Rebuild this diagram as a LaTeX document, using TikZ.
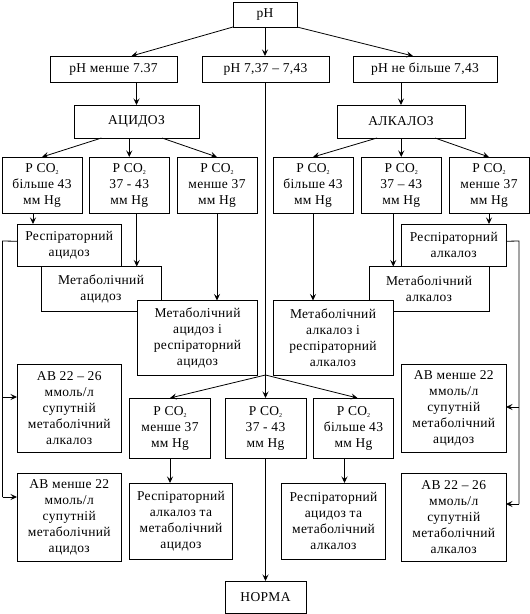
\documentclass[tikz,border=0pt]{standalone}
\usepackage{fontspec}
\setmainfont{Liberation Serif}[LetterSpace=2.5]
\usetikzlibrary{arrows.meta}
\tikzset{
  box/.style={draw, fill=white, line width=0.8pt, inner sep=1pt, outer sep=0pt,
    align=center, font=\fontsize{13.5}{16}\selectfont},
  arr/.style={line width=0.8pt, -{Stealth[length=6.5pt,width=6pt,inset=2.5pt]}},
  ln/.style={line width=0.8pt},
}
\newcommand\bx[6]{\node[box, minimum width={#4pt-#2pt}, minimum height={#5pt-#3pt}] (#1) at ({(#2+#4)/2},{(#3+#5)/2}) {#6};}
\newcommand\pco{P CO\raisebox{-0.35ex}{\fontsize{6}{6}\selectfont 2}}
\begin{document}
\begin{tikzpicture}[x=1pt,y=-1pt]
\useasboundingbox (0,0) rectangle (530,614);
% boxes
\bx{ph}{233}{2}{297}{27}{pH}
\bx{pl}{50}{56}{177}{82}{pH менше 7.37}
\bx{pm}{202}{56}{329}{82}{pH 7,37 – 7,43}
\bx{pr}{353}{56}{497}{82}{pH не більше 7,43}
\bx{ac}{74}{105}{199}{138}{АЦИДОЗ}
\bx{al}{337}{105}{465}{138}{АЛКАЛОЗ}
\bx{b1}{2}{157}{82}{213}{\pco\\більше 43\\мм Hg}
\bx{b2}{89.5}{157}{169}{213}{\pco\\37 - 43\\мм Hg}
\bx{b3}{177}{157}{257}{213}{\pco\\менше 37\\мм Hg}
\bx{b4}{273}{157}{353}{213}{\pco\\більше 43\\мм Hg}
\bx{b5}{361.5}{157}{441}{213}{\pco\\37 – 43\\мм Hg}
\bx{b6}{449}{157}{529}{213}{\pco\\менше 37\\мм Hg}
\bx{ra}{17}{224}{121.5}{266.5}{Респіраторний\\ацидоз}
\bx{ma}{41}{266.5}{161}{311}{Метаболічний\\ацидоз}
\bx{mra}{137.5}{300.5}{257.5}{375}{Метаболічний\\ацидоз і\\респіраторний\\ацидоз}
\bx{ral}{401.5}{224}{506}{266.5}{Респіраторний\\алкалоз}
\bx{mal}{369}{266.5}{489}{311}{Метаболічний\\алкалоз}
\bx{mral}{273}{300.5}{393}{375}{Метаболічний\\алкалоз і\\респіраторний\\алкалоз}
\bx{abLa}{17}{364}{121.5}{452}{АВ 22 – 26\\ммоль/л\\супутній\\метаболічний\\алкалоз}
\bx{abLb}{17}{473}{121.5}{561}{АВ менше 22\\ммоль/л\\супутній\\метаболічний\\ацидоз}
\bx{abRa}{401.5}{364}{506}{452}{АВ менше 22\\ммоль/л\\супутній\\метаболічний\\ацидоз}
\bx{abRb}{401.5}{473}{506}{561}{АВ 22 – 26\\ммоль/л\\супутній\\метаболічний\\алкалоз}
\bx{c1}{129.5}{398}{210.5}{458}{\pco\\менше 37\\мм Hg}
\bx{c2}{225}{398}{306}{458}{\pco\\37 - 43\\мм Hg}
\bx{c3}{313.5}{398}{393.5}{458}{\pco\\більше 43\\мм Hg}
\bx{d1}{129.5}{483}{232.5}{559}{Респіраторний\\алкалоз та\\метаболічний\\ацидоз}
\bx{d2}{281.5}{483}{385.5}{559}{Респіраторний\\ацидоз та\\метаболічний\\алкалоз}
\bx{nm}{225}{581}{306}{613}{НОРМА}
% top arrows
\draw[arr] (ph.south west) -- ([xshift=18pt]pl.north);
\draw[arr] (ph.south) -- (ph.south |- pm.north);
\draw[arr] (ph.south east) -- ([xshift=-12pt]pr.north);
\draw[arr] (pl.south -| ac.north) -- (ac.north);
\draw[arr] (pr.south -| al.north) -- (al.north);
\draw[arr] ([xshift=-35pt]ac.south) -- (b1.north);
\draw[arr] (ac.south -| b2.north) -- (b2.north);
\draw[arr] ([xshift=25.5pt]ac.south) -- (b3.north);
\draw[arr] ([xshift=-24pt]al.south) -- (b4.north);
\draw[arr] (al.south -| b5.north) -- (b5.north);
\draw[arr] ([xshift=34pt]al.south) -- (b6.north);
% row 4 to row 5
\draw[arr] ([xshift=-9pt]b1.south) -- ([xshift=-9pt]b1.south |- ra.north);
\draw[arr] ([xshift=7.5pt]b2.south) -- ([xshift=7.5pt]b2.south |- ma.north);
\draw[arr] (b3.south) -- (b3.south |- mra.north);
\draw[arr] (b4.south) -- (b4.south |- mral.north);
\draw[arr] ([xshift=-8pt]b5.south) -- ([xshift=-8pt]b5.south |- mal.north);
\draw[arr] (b6.south) -- (b6.south |- ral.north);
% left bracket
\coordinate (lt) at (2.5,241);
\coordinate (la1) at (2.5,397);
\coordinate (lb) at (2.5,497);
\draw[ln] ([yshift=4pt]ra.west) -- (lt) -- (lb);
\draw[arr] (la1) -- (la1 -| abLa.west);
\draw[arr] (lb) -- (lb -| abLb.west);
% right bracket
\coordinate (rt) at (519,241);
\coordinate (ra1) at (519,407);
\coordinate (rb) at (519,504);
\draw[ln] ([yshift=4pt]ral.east) -- (rt) -- (rb);
\draw[arr] (ra1) -- (ra1 -| abRa.east);
\draw[arr] (rb) -- (rb -| abRb.east);
% middle
\coordinate (br) at (pm.south |- mra.south);
\draw[ln] (pm.south) -- (br);
\draw[arr] (br) -- (c1.north);
\draw[arr] (br) -- (br |- c2.north);
\draw[arr] (br) -- ([xshift=4pt]c3.north);
\draw[arr] (c1.south) -- (c1.south |- d1.north);
\draw[arr] ([xshift=-9pt]c3.south) -- ([xshift=-9pt]c3.south |- d2.north);
\draw[arr] (c2.south) -- (c2.south |- nm.north);
\end{tikzpicture}
\end{document}
